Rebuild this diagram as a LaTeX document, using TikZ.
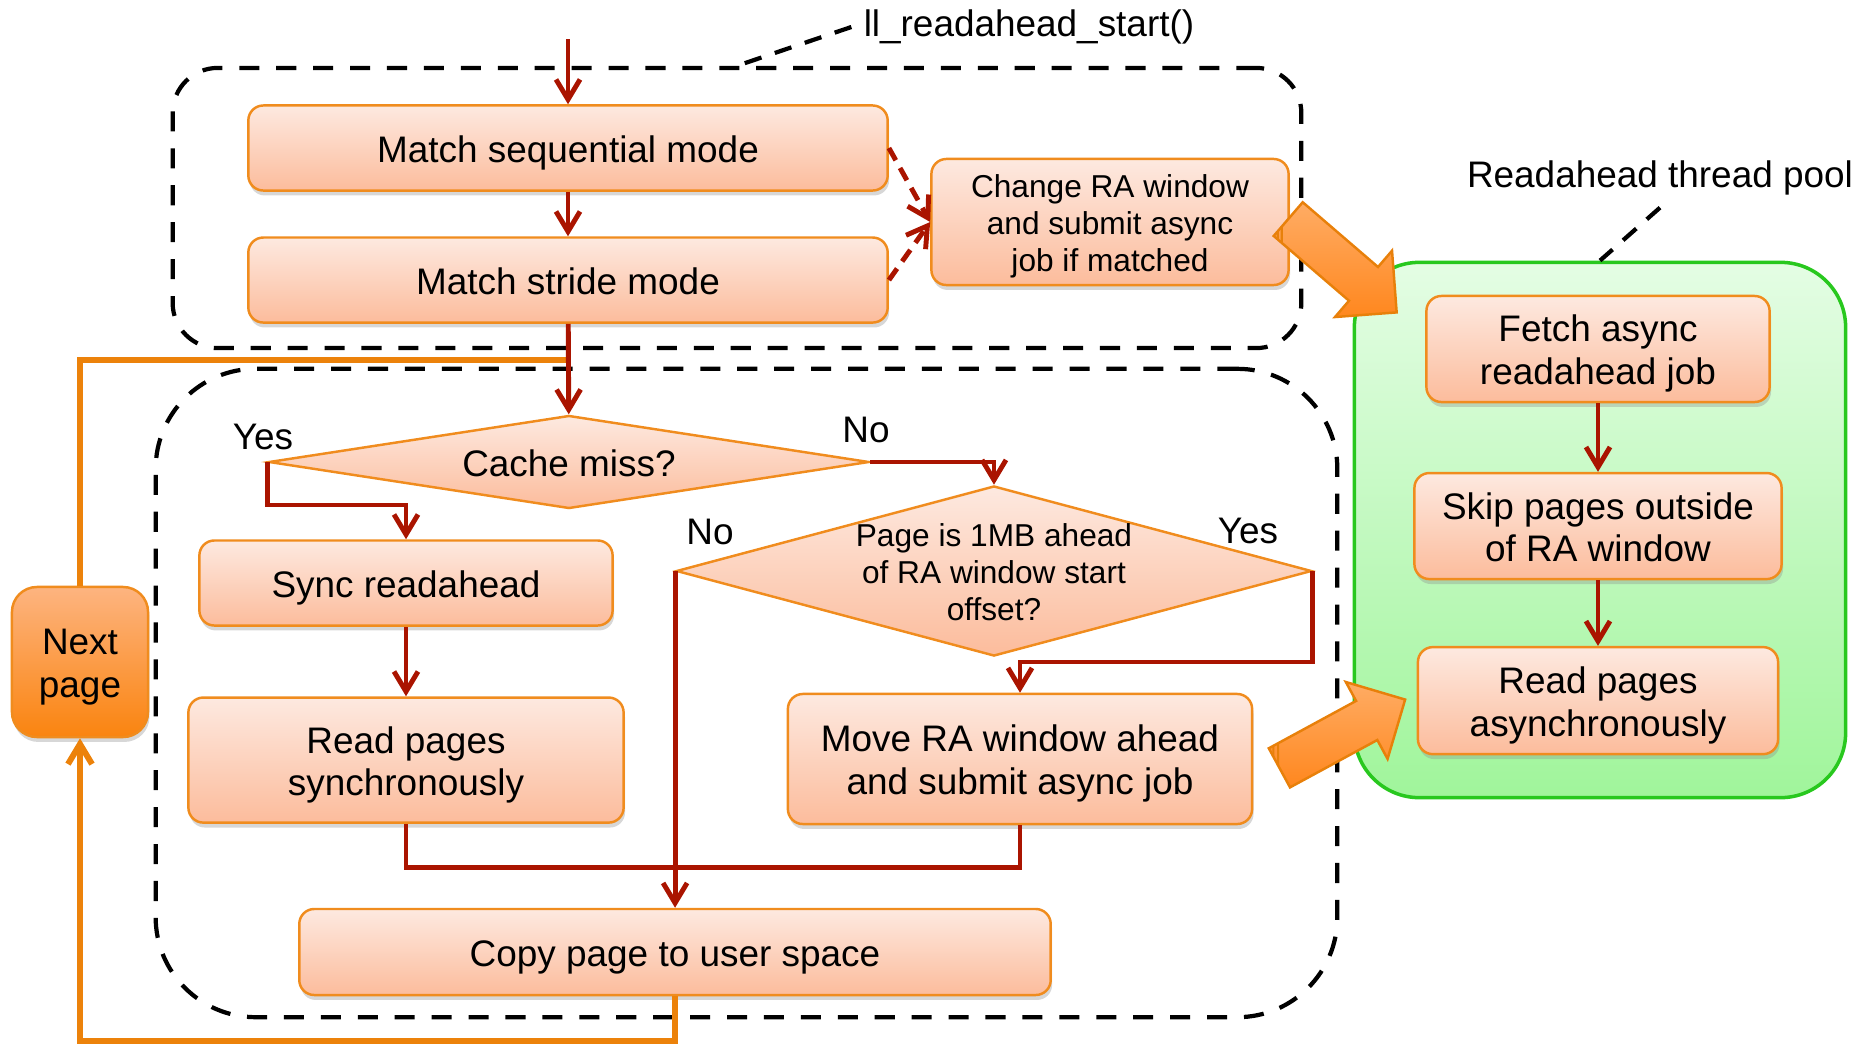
\documentclass[tikz,border=0pt]{standalone}
\usepackage{fontspec}
\setmainfont{Liberation Sans}
\usetikzlibrary{arrows.meta,shapes,positioning,shadows}

\definecolor{raRed}{RGB}{170,20,0}
\definecolor{raOrange}{RGB}{236,130,10}
\definecolor{boxLine}{RGB}{240,140,30}
\definecolor{boxTop}{RGB}{253,233,224}
\definecolor{boxBottom}{RGB}{252,188,156}
\definecolor{nextTop}{RGB}{253,180,128}
\definecolor{nextBottom}{RGB}{250,132,15}
\definecolor{poolLine}{RGB}{40,200,30}
\definecolor{poolTop}{RGB}{228,253,228}
\definecolor{poolBottom}{RGB}{160,245,155}
\definecolor{arrowLine}{RGB}{232,128,10}
\definecolor{arrowTop}{RGB}{255,172,100}
\definecolor{arrowBottom}{RGB}{255,135,30}

% struts for the first and last text line of a box
\newcommand{\tall}{\rule{0pt}{1em}}
\newcommand{\deep}{\rule[-0.22em]{0pt}{0.22em}}

\begin{document}
\begin{tikzpicture}[
    x=0.01cm, y=-0.01cm,
    font=\fontsize{10.5}{12.2}\selectfont,
    box/.style={rectangle, draw=boxLine, line width=0.7pt, rounded corners=0.15cm, top color=boxTop, bottom color=boxBottom, align=center, inner sep=0pt, drop shadow={shadow xshift=0.4pt, shadow yshift=-1.4pt, fill=black!45, opacity=0.35}},
    decision/.style={diamond, draw=boxLine, line width=0.7pt, top color=boxTop, bottom color=boxBottom, align=center, inner sep=0pt},
    small/.style={font=\fontsize{9}{10.5}\selectfont},
    flow/.style={draw=raRed, line width=1.4pt, -{Straight Barb[length=2mm, width=2.4mm]}},
    link/.style={draw=raRed, line width=1.4pt},
    loopline/.style={draw=raOrange, line width=1.7pt},
    group/.style={draw, dash pattern=on 5.7pt off 4.8pt, line width=1.2pt},
    pointer/.style={draw, dash pattern=on 5pt off 4pt, line width=1.2pt},
    pool/.style={draw=poolLine, line width=1pt, top color=poolTop, bottom color=poolBottom, rounded corners=0.65cm},
    bigarrow/.style={single arrow, draw=arrowLine, line width=0.7pt, top color=arrowTop, bottom color=arrowBottom, inner xsep=0pt, inner ysep=0.21cm, single arrow head extend=0.215cm, single arrow tip angle=90, minimum height=1.43cm,
      path picture={
        \draw[arrowLine, line width=0.6pt] ([xshift=1.5pt]path picture bounding box.south west) -- ([xshift=1.5pt]path picture bounding box.north west);
        \draw[arrowLine, line width=0.6pt] ([xshift=3pt]path picture bounding box.south west) -- ([xshift=3pt]path picture bounding box.north west);
      }}
  ]
    \useasboundingbox (0,0) rectangle (1872,1045);

    % Frames
    \node[group, rounded corners=0.45cm, minimum width=11.28cm, minimum height=2.80cm] (upper) at (737,208) {};
    \node[group, rounded corners=1cm, minimum width=11.81cm, minimum height=6.48cm] (lower) at (746.5,693) {};
    \node[pool, minimum width=4.91cm, minimum height=5.35cm] (pool) at (1600,530) {};

    % Labels
    \node (title) at (1029,27) {ll\_readahead\_start()};
    \node (poolname) at (1660,178) {Readahead thread pool};
    \node (yes1) at (263,437) {Yes};
    \node (no1) at (866,430) {No};
    \node (no2) at (710,532) {No};
    \node (yes2) at (1248,531) {Yes};
    \draw[pointer] (title.west) -- (upper.north);
    \draw[pointer] (poolname.south) -- (pool.north);

    % Nodes
    \node[box, minimum width=6.39cm, minimum height=0.85cm] (seq) at (568,148) {\tall Match sequential mode\deep};
    \node[box, minimum width=6.39cm, minimum height=0.85cm, below=0.445cm of seq] (stride) {\tall Match stride mode\deep};
    \node[box, small, minimum width=3.57cm, minimum height=1.26cm] (change) at (1110,222) {\tall Change RA window\\and submit async\\job if matched\deep};
    \node[decision, aspect=6.45, minimum width=6cm, minimum height=0.93cm] (cache) at (569,462) {\tall Cache miss?\deep};
    \node[box, minimum width=4.13cm, minimum height=0.85cm] (sync) at (406,583) {\tall Sync readahead\deep};
    \node[box, minimum width=4.35cm, minimum height=1.25cm, below=0.695cm of sync] (readsync) {\tall Read pages\\synchronously\deep};
    \node[decision, small, aspect=3.74, inner sep=-4pt, minimum width=6.35cm, minimum height=1.70cm] (page) at (994,571) {\tall Page is 1MB ahead\\of RA window start\\offset?\deep};
    \node[box, minimum width=4.64cm, minimum height=1.30cm] (move) at (1020,759) {\tall Move RA window ahead\\and submit async job\deep};
    \node[box, minimum width=7.51cm, minimum height=0.86cm] (copy) at (675,952) {\tall Copy page to user space\deep};
    \node[box, rounded corners=0.25cm, top color=nextTop, bottom color=nextBottom, minimum width=1.36cm, minimum height=1.50cm] (next) at (80,662) {\tall Next\\page\deep};
    \node[box, minimum width=3.43cm, minimum height=1.06cm] (fetch) at (1598,349) {\tall Fetch async\\readahead job\deep};
    \node[box, minimum width=3.67cm, minimum height=1.06cm, below=0.685cm of fetch] (skip) {\tall Skip pages outside\\of RA window\deep};
    \node[box, minimum width=3.60cm, minimum height=1.07cm, below=0.655cm of skip] (readasync) {\tall Read pages\\asynchronously\deep};

    % Next page loop
    \coordinate (entry) at (568,39);
    \coordinate (merge) at (568,360);
    \draw[loopline, -{Straight Barb[length=2mm, width=2.4mm]}] (copy.south) -- ++(0,45) -| (next.south);
    \draw[loopline] (next.north) |- (merge);

    % Arrows
    \draw[flow] (entry) -- (seq);
    \draw[flow] (seq) -- (stride);
    \draw[flow, dash pattern=on 4pt off 2.5pt] (seq.east) -- (change.west);
    \draw[flow, dash pattern=on 4pt off 2.5pt] (stride.east) -- (change.west);
    \draw[flow] (stride) -- (cache);
    \draw[flow] (cache.west) -- ++(0,43) -| (sync.north);
    \draw[flow] (sync) -- (readsync);
    \draw[flow] (cache.east) -| (page.north);
    \draw[flow] (page.west) -- (page.west |- copy.north);
    \draw[flow] (page.east) -- ++(0,91) -| (move.north);
    \draw[link] (readsync.south) -- ++(0,44) -| (move.south);
    \draw[flow] (fetch) -- (skip);
    \draw[flow] (skip) -- (readasync);

    % Hand-off to the thread pool
    \node[bigarrow, rotate=-40.7] (push) at (1334,258.5) {};
    \node[bigarrow, rotate=28.5] (handoff) at (1332.5,739) {};
  \end{tikzpicture}
\end{document}
